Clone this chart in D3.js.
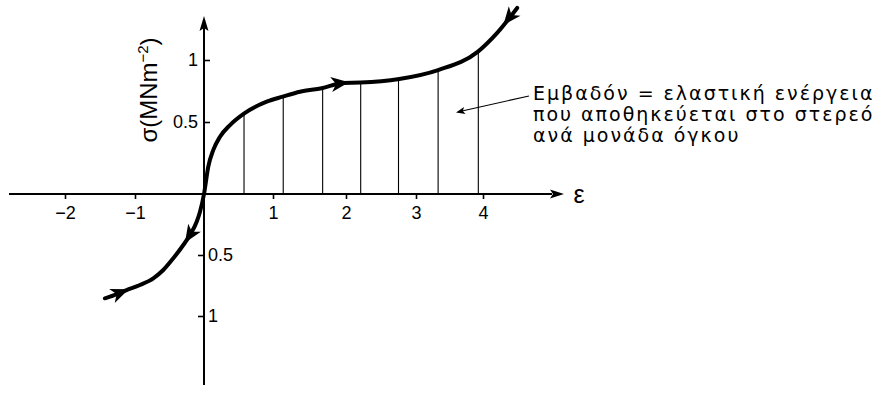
<!DOCTYPE html>
<html>
<head>
<meta charset="utf-8">
<script src="https://cdn.jsdelivr.net/npm/d3@7"></script>
<style>
  html, body { margin: 0; padding: 0; background: #fff; }
  svg { display: block; }
</style>
</head>
<body>
<svg id="chart" width="880" height="412" font-family="Liberation Sans, Arial, Helvetica, sans-serif"></svg>
<script>
// Stress–strain curve: strain ε (x) and stress σ in MN m^-2 (y)
const strainValues = [-1.43, -1.357, -1.119, -0.928, -0.735, -0.59, -0.445, -0.30, -0.203, -0.106, -0.058, 0, 0.062, 0.135, 0.232, 0.377, 0.584, 0.909, 1.133, 1.37, 1.667, 1.96, 2.21, 2.76, 3.33, 3.92, 4.205, 4.51];
const stressValues = [-0.855, -0.842, -0.787, -0.746, -0.691, -0.623, -0.527, -0.418, -0.336, -0.227, -0.145, 0, 0.19, 0.306, 0.398, 0.479, 0.570, 0.664, 0.704, 0.744, 0.772, 0.815, 0.818, 0.847, 0.919, 1.066, 1.215, 1.42];

// Strains at which the area under the curve is hatched
const hatchStrains = [0.58, 1.14, 1.68, 2.21, 2.75, 3.33, 3.93];

// Direction arrows along the curve (+1 = towards larger ε, -1 = towards smaller ε)
const arrowStrains = [-1.17, -0.23, 1.96, 4.36];
const arrowDirections = [1, -1, 1, -1];

// Axis ticks
const xTickValues = [-2, -1, 1, 2, 3, 4];
const yTickPositive = [0.5, 1];
const yTickNegative = [-0.5, -1];

const annotationLines = [
  "Εμβαδόν = ελαστική ενέργεια",
  "που αποθηκεύεται στο στερεό",
  "ανά μονάδα όγκου"
];

const svg = d3.select("#chart");
const baseFont = "Liberation Sans, Arial, Helvetica, sans-serif";

// Hand-drawn axes are not evenly spaced, so the scales are piecewise linear
const x = d3.scaleLinear()
  .domain([-2, -1, 0, 1, 2, 3, 4])
  .range([65, 135, 204, 273, 346, 416, 483]);
const y = d3.scaleLinear()
  .domain([-1, -0.5, 0, 0.5, 1])
  .range([316, 255, 194, 122, 60]);

const x0 = x(0), y0 = y(0);
const tickFont = 18;

// Stress as a function of strain, following the curve points
const stressAt = d3.scaleLinear().domain(strainValues).range(stressValues);

// ---- axes ----
const axisG = svg.append("g").attr("stroke", "#000").attr("fill", "none");
axisG.append("line")
  .attr("x1", 9).attr("x2", 552).attr("y1", y0).attr("y2", y0)
  .attr("stroke-width", 2);
axisG.append("line")
  .attr("x1", x0).attr("x2", x0).attr("y1", 385).attr("y2", 28)
  .attr("stroke-width", 2);

// axis arrowheads
svg.append("path")
  .attr("d", "M0,0 L-14,-4.5 L-11,0 L-14,4.5 Z")
  .attr("transform", `translate(564,${y0})`)
  .attr("fill", "#000");
svg.append("path")
  .attr("d", "M0,0 L-15,-4.5 L-12,0 L-15,4.5 Z")
  .attr("transform", `translate(${x0},16) rotate(-90)`)
  .attr("fill", "#000");

function styleTicks(g) {
  g.attr("font-size", tickFont).attr("font-family", baseFont);
  g.select(".domain").remove();
  g.selectAll(".tick line").attr("stroke", "#000").attr("stroke-width", 1.6);
  g.selectAll(".tick text").attr("fill", "#000");
}

// x ticks below the axis
const xAxis = d3.axisBottom(x)
  .tickValues(xTickValues)
  .tickSize(5)
  .tickPadding(7)
  .tickFormat(d3.format("d"));
const xg = svg.append("g").attr("transform", `translate(0,${y0})`).call(xAxis);
styleTicks(xg);

// positive σ ticks point right, labels sit left of the axis
const yPosAxis = d3.axisRight(y).tickValues(yTickPositive).tickSize(6).tickFormat(d3.format(""));
const ypg = svg.append("g").attr("transform", `translate(${x0},0)`).call(yPosAxis);
styleTicks(ypg);
ypg.selectAll(".tick text").attr("x", -6).attr("text-anchor", "end");

// negative σ ticks point left, labels (magnitude only) right of the axis
const yNegAxis = d3.axisLeft(y).tickValues(yTickNegative).tickSize(6).tickFormat(d => String(Math.abs(d)));
const yng = svg.append("g").attr("transform", `translate(${x0},0)`).call(yNegAxis);
styleTicks(yng);
yng.selectAll(".tick text").attr("x", 4).attr("text-anchor", "start");

// axis titles
svg.append("text")
  .attr("x", 579).attr("y", 203)
  .attr("text-anchor", "middle")
  .attr("font-size", 25)
  .text("ε");

const yTitle = svg.append("text")
  .attr("transform", "translate(157,90) rotate(-90)")
  .attr("text-anchor", "middle")
  .attr("font-size", 24);
yTitle.append("tspan").text("σ(MNm");
yTitle.append("tspan").attr("font-size", 15).attr("dy", -9).text("−2");
yTitle.append("tspan").attr("dy", 9).text(")");

// ---- hatching under the curve ----
svg.append("g")
  .selectAll("line")
  .data(hatchStrains)
  .join("line")
  .attr("x1", d => x(d)).attr("x2", d => x(d))
  .attr("y1", y0).attr("y2", d => y(stressAt(d)))
  .attr("stroke", "#000")
  .attr("stroke-width", 1.1);

// ---- curve ----
const points = strainValues.map((e, i) => [e, stressValues[i]]);
const line = d3.line()
  .x(d => x(d[0]))
  .y(d => y(d[1]))
  .curve(d3.curveMonotoneX);
svg.append("path")
  .datum(points)
  .attr("d", line)
  .attr("fill", "none")
  .attr("stroke", "#000")
  .attr("stroke-width", 4)
  .attr("stroke-linecap", "round");

// ---- direction arrows on the curve ----
svg.append("g")
  .selectAll("path")
  .data(arrowStrains.map((e, i) => ({ e, dir: arrowDirections[i] })))
  .join("path")
  .attr("d", "M6,0 L-12,-7.5 L-7,0 L-12,7.5 Z")
  .attr("fill", "#000")
  .attr("transform", d => {
    const h = 0.04;
    const ax = x(d.e - h), ay = y(stressAt(d.e - h));
    const bx = x(d.e + h), by = y(stressAt(d.e + h));
    let ang = Math.atan2(by - ay, bx - ax) * 180 / Math.PI;
    if (d.dir < 0) ang += 180;
    return `translate(${x(d.e)},${y(stressAt(d.e))}) rotate(${ang})`;
  });

// ---- annotation ----
const ann = svg.append("text")
  .attr("x", 533).attr("y", 100)
  .attr("font-family", "DejaVu Sans, sans-serif")
  .attr("font-size", 19)
  .attr("letter-spacing", 2);
annotationLines.forEach((t, i) => {
  ann.append("tspan").attr("x", 533).attr("dy", i === 0 ? 0 : 21).text(t);
});

// leader pointing into the hatched area
svg.append("line")
  .attr("x1", 529).attr("y1", 96).attr("x2", 462).attr("y2", 111)
  .attr("stroke", "#000").attr("stroke-width", 1.2);
svg.append("path")
  .attr("d", "M0,0 L-9,-3.5 L-7,0 L-9,3.5 Z")
  .attr("fill", "#000")
  .attr("transform", `translate(456,112.5) rotate(${Math.atan2(112.5 - 96, 456 - 529) * 180 / Math.PI})`);
</script>
</body>
</html>
